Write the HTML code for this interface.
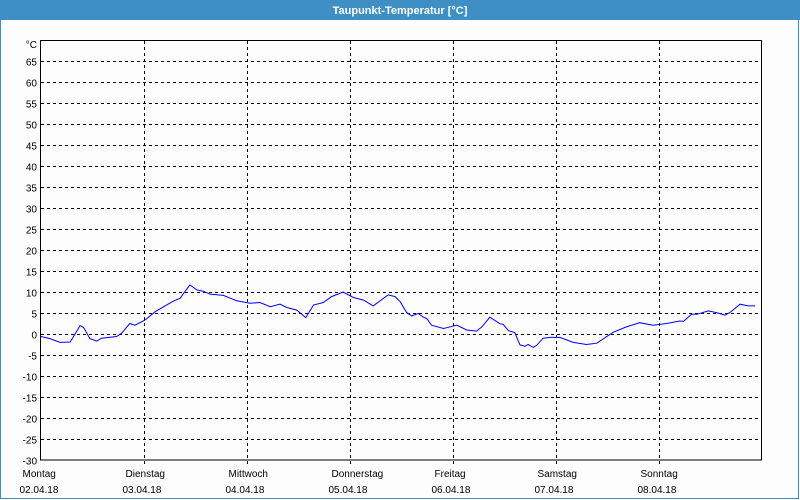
<!DOCTYPE html>
<html><head><meta charset="utf-8"><style>
body{margin:0;width:800px;height:500px;overflow:hidden;background:#fff}
svg{display:block;font-family:"Liberation Sans",sans-serif}
</style></head><body>
<svg width="800" height="500">
<rect x="0" y="0" width="800" height="500" fill="#fcfdfc"/>
<rect x="0.5" y="0.5" width="798" height="498" fill="none" stroke="#3d8fc4"/>
<rect x="0" y="0" width="800" height="20" fill="#3d8fc4"/>
<text x="400" y="14" fill="#fff" font-size="11" font-weight="bold" text-anchor="middle">Taupunkt-Temperatur [°C]</text>
<g id="grid"></g>
<g id="axes"></g>
<path id="line" fill="none" stroke="#0000ff" stroke-width="1"/>
<rect x="40.5" y="40.5" width="721" height="419.5" fill="none" stroke="#000"/>
</svg>
<script>
const yTicks=[65,60,55,50,45,40,35,30,25,20,15,10,5,0,-5,-10,-15,-20,-25,-30];
const dayNames=["Montag","Dienstag","Mittwoch","Donnerstag","Freitag","Samstag","Sonntag"];
const dayDates=["02.04.18","03.04.18","04.04.18","05.04.18","06.04.18","07.04.18","08.04.18"];
const hours=[0,2.1,4.4,6.8,9.1,9.9,11.4,13.0,14.1,17.6,18.8,20.7,21.9,24.2,26.6,30.8,32.4,34.7,36.3,37.8,39.4,42.5,45.6,48.7,51.0,53.4,55.7,57.3,59.6,61.7,63.5,65.8,67.7,70.4,72.8,75.1,77.4,80.9,82.5,83.7,85.2,86.4,87.9,89.1,89.9,91.0,93.8,94.9,96.9,99.2,101.5,102.7,104.6,107,107.7,108.9,110.4,111.6,112.8,113.5,114.7,115.6,117,118.6,120.9,124,127.1,129.5,133.3,136.4,139.5,142.6,145.8,148.8,149.7,151.6,152.8,155.5,157.4,159.4,160.5,162.9,164.8,166.4];
const values=[-0.6,-1.1,-2,-1.9,2,1.6,-1.1,-1.7,-1,-0.6,0.2,2.5,2.1,3.3,5.3,7.8,8.5,11.7,10.5,10.2,9.5,9.2,7.9,7.3,7.5,6.5,7.1,6.3,5.7,3.9,6.9,7.5,8.9,10,8.7,8.1,6.7,9.3,8.9,7.7,5.1,4.3,4.9,4.0,3.7,2.1,1.3,1.6,2.1,0.95,0.7,1.7,4.0,2.4,2.3,0.8,0.3,-2.6,-2.9,-2.5,-3.2,-2.6,-1.0,-0.8,-0.8,-2.0,-2.5,-2.2,0.4,1.7,2.7,2.1,2.5,3.1,3.0,4.7,4.7,5.5,5.1,4.5,5.1,7.1,6.7,6.7];
const NS="http://www.w3.org/2000/svg";
const X=t=>41+t*103/24, Y=v=>334-4.2*v;
const grid=document.getElementById('grid'), axes=document.getElementById('axes');
function mk(tag,attrs,parent){const e=document.createElementNS(NS,tag);for(const k in attrs)e.setAttribute(k,attrs[k]);parent.appendChild(e);return e;}
yTicks.forEach(v=>{
  const y=Math.round(Y(v))+0.5;
  if(v>-30){const l=mk('line',{x1:41,x2:761,y1:y,y2:y,stroke:'#000','stroke-dasharray':'3,3'},grid);
  
  }
  const t=mk('text',{x:37,y:y+4,'font-size':10,'text-anchor':'end',fill:'#000'},axes);
  t.textContent=v;
  
  
});
const u=mk('text',{x:37,y:48,'font-size':10,'text-anchor':'end',fill:'#000'},axes);
u.textContent='°C';


dayNames.forEach((d,i)=>{
  const x=Math.round(X(i*24))+0.5;
  if(i>0){const l=mk('line',{x1:x,x2:x,y1:41,y2:464,stroke:'#000','stroke-dasharray':'3,3'},grid);
  
  }
  const a=mk('text',{x:x-19,y:477,'font-size':10,fill:'#000'},axes);
  a.textContent=d;
  
  
  const b=mk('text',{x:x-22,y:493,'font-size':10,fill:'#000'},axes);
  b.textContent=dayDates[i];
  
  
});
document.getElementById('line').setAttribute('d',hours.map((h,i)=>(i?'L':'M')+X(h).toFixed(1)+','+Y(values[i]).toFixed(1)).join(''));
</script>
</body></html>
